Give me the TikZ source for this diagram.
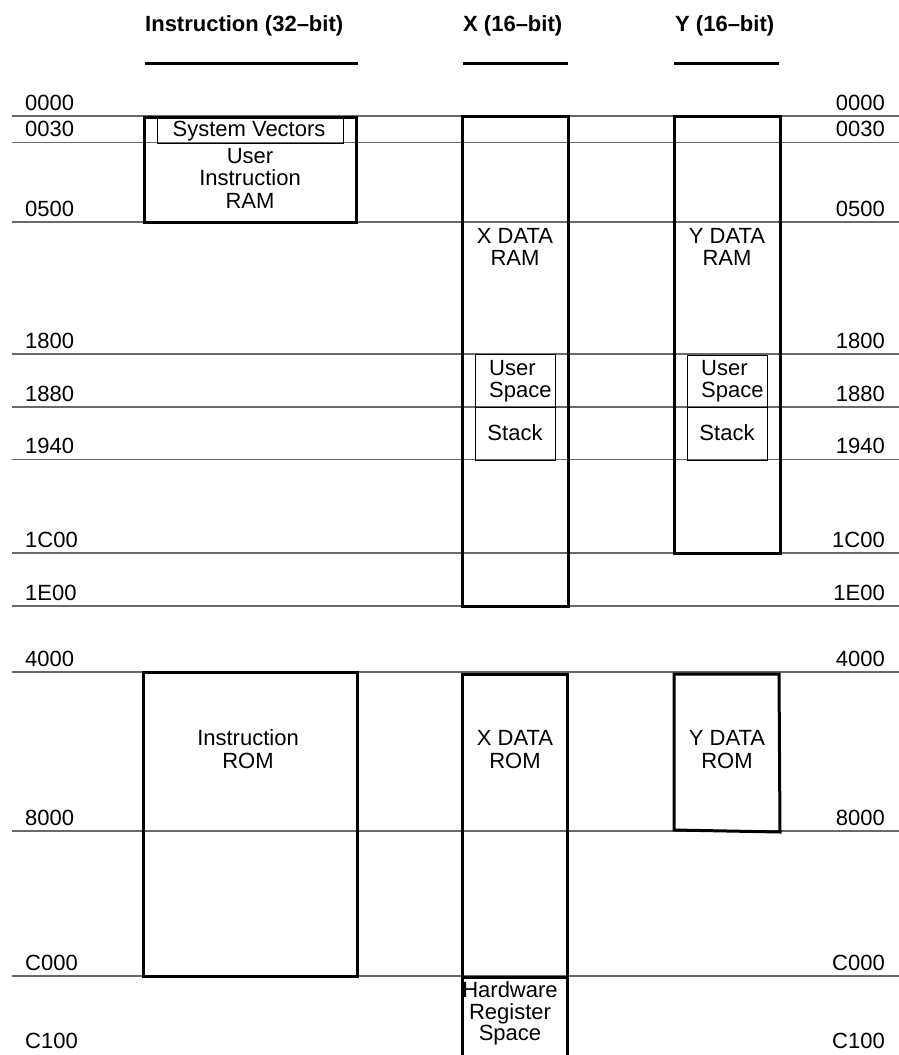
\documentclass[tikz,border=0pt]{standalone}
\usepackage{fontspec}
\setmainfont{Liberation Sans}
\definecolor{linegray}{RGB}{105,105,105}
\tikzset{
  rowline/.style={draw=linegray, line width=1.3pt},
  bigbox/.style={draw=black, line width=3pt, line join=miter},
  smallbox/.style={draw=black, line width=1.4pt},
  hdrline/.style={draw=black, line width=3pt},
  lbl/.style={inner sep=0pt, font=\fontsize{22}{25}\selectfont},
  hdr/.style={inner sep=0pt, anchor=base west, font=\bfseries\fontsize{22}{25}\selectfont},
  llab/.style={lbl, anchor=base west},
  rlab/.style={lbl, anchor=base east},
  ctext/.style={lbl, anchor=base},
  ltext/.style={lbl, anchor=base west},
}
\begin{document}
\begin{tikzpicture}[x=1pt,y=-1pt]
\useasboundingbox (0,0) rectangle (899,1055);
\fill[white] (0,0) rectangle (899,1055);

% headers
\node[hdr] (h1) at (145,31) {Instruction (32–bit)};
\node[hdr] (h2) at (463,31) {X (16–bit)};
\node[hdr] (h3) at (675,31) {Y (16–bit)};
\coordinate (h1a) at (145,63); \coordinate (h1b) at (358,63);
\coordinate (h2a) at (463,63); \coordinate (h2b) at (568,63);
\coordinate (h3a) at (674,63); \coordinate (h3b) at (779,63);
\draw[hdrline] (h1a) -- (h1b);
\draw[hdrline] (h2a) -- (h2b);
\draw[hdrline] (h3a) -- (h3b);

% address rows
\foreach \name/\yl in {0000/116, 0030/142.5, 0500/222, 1800/354, 1880/407, 1940/459.5, 1C00/553, 1E00/606, 4000/672, 8000/831, C000/976}{
  \coordinate (L\name) at (12,\yl);
  \coordinate (R\name) at (899,\yl);
  \draw[rowline] (L\name) -- (R\name);
  \node[llab] (ll\name) at (25,\yl-6) {\name};
  \node[rlab] (rl\name) at (885,\yl-6) {\name};
}
\node[llab] (llC100) at (25,1048) {C100};
\node[rlab] (rlC100) at (885,1048) {C100};

% Instruction column
\draw[bigbox] (144,117) rectangle (356,222);
\node[smallbox, inner sep=0pt, minimum width=186pt, minimum height=24.5pt, anchor=north west] (sv) at (157,118) {};
\node[ctext] (svt) at (249,136) {System Vectors};
\node[ctext] (uir1) at (250,163) {User};
\node[ctext] (uir2) at (250,185) {Instruction};
\node[ctext] (uir3) at (250,208) {RAM};

\draw[bigbox] (143,672) rectangle (357,976);
\node[ctext] (ir1) at (248,745) {Instruction};
\node[ctext] (ir2) at (248,768) {ROM};

% X column
\draw[bigbox] (462,116) rectangle (568,606);
\node[ctext] (xr1) at (515,243) {X DATA};
\node[ctext] (xr2) at (515,265) {RAM};
\node[smallbox, inner sep=0pt, minimum width=80pt, minimum height=53pt, anchor=north west] (xus) at (475,354) {};
\node[ltext] (xus1) at (489,375) {User};
\node[ltext] (xus2) at (489,397) {Space};
\node[smallbox, inner sep=0pt, minimum width=80pt, minimum height=52.5pt, anchor=north west] (xst) at (475,407) {};
\node[ctext] (xstt) at (515,440) {Stack};

\draw[bigbox] (462,674) rectangle (567,977);
\node[ctext] (xo1) at (515,745) {X DATA};
\node[ctext] (xo2) at (515,768) {ROM};

\draw[bigbox] (462,1060) -- (462,977) -- (567,977) -- (567,1060);
\node[ctext] (hw1) at (510,997) {Hardware};
\node[ctext] (hw2) at (510,1019) {Register};
\node[ctext] (hw3) at (510,1040) {Space};

% Y column
\draw[bigbox] (674,116) rectangle (780,553);
\node[ctext] (yr1) at (727,243) {Y DATA};
\node[ctext] (yr2) at (727,265) {RAM};
\node[smallbox, inner sep=0pt, minimum width=80pt, minimum height=52pt, anchor=north west] (yus) at (687,355) {};
\node[ltext] (yus1) at (701,375) {User};
\node[ltext] (yus2) at (701,397) {Space};
\node[smallbox, inner sep=0pt, minimum width=80pt, minimum height=52.5pt, anchor=north west] (yst) at (687,407) {};
\node[ctext] (ystt) at (727,440) {Stack};

\draw[bigbox] (674,674) -- (779,674) -- (780,832) -- (674,830) -- cycle;
\node[ctext] (yo1) at (727,745) {Y DATA};
\node[ctext] (yo2) at (727,768) {ROM};
\end{tikzpicture}
\end{document}
